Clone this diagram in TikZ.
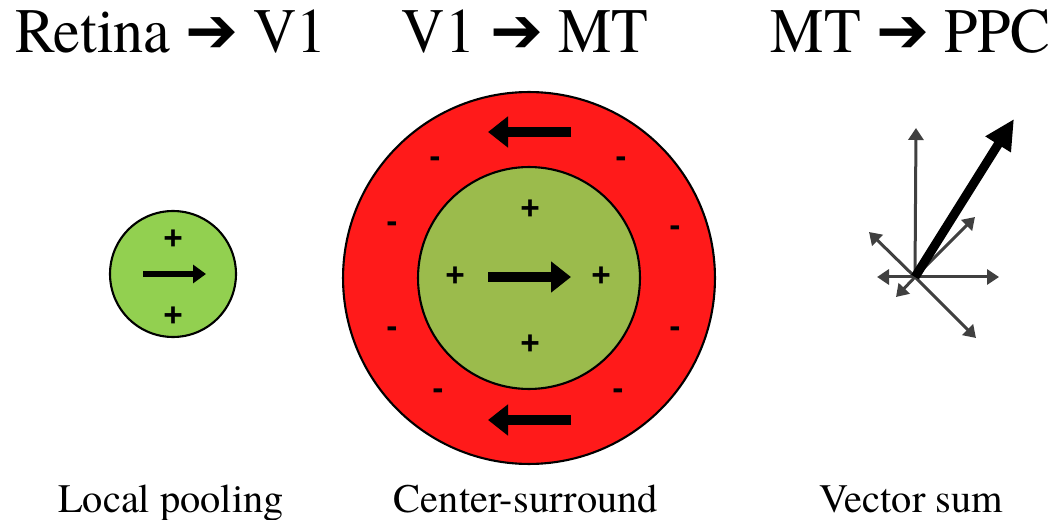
\documentclass[tikz,border=0pt]{standalone}
\usepackage{fontspec}
\setmainfont{TeX Gyre Termes}
\newfontfamily\titlefont{TeX Gyre Termes}[FakeStretch=0.95]
\newfontfamily\arrowfont{DejaVu Sans}
\newfontfamily\signfont{Liberation Sans}
\usetikzlibrary{arrows.meta}

\definecolor{lightgreen}{HTML}{92D050}
\definecolor{olivegreen}{HTML}{9BBB4C}
\definecolor{surroundred}{HTML}{FF1A1A}
\definecolor{vecgray}{HTML}{404040}

\newcommand{\rarr}{{\arrowfont\char"2794}}

\begin{document}
\begin{tikzpicture}[x=0.02cm, y=-0.02cm,
    title/.style={anchor=base, font=\titlefont\fontsize{36}{42}\selectfont},
    caption/.style={anchor=base, font=\rmfamily\fontsize{23}{27}\selectfont},
    field/.style={draw, circle, line width=1.2pt, inner sep=0pt},
    sign/.style={font=\signfont\bfseries\fontsize{19}{21}\selectfont, inner sep=0pt},
    motion/.style={line width=0.2cm, -{Triangle[length=0.4cm, width=0.6cm]}},
    vec/.style={draw=vecgray, line width=0.06cm, -{Triangle[length=0.24cm, width=0.3cm]}}]
    \useasboundingbox (0,0) rectangle (1062,520);

    % titles
    \node[title] (t1) at (171,53) {Retina \rarr{} V1};
    \node[title] (t2) at (525,53) {V1 \rarr{} MT};
    \node[title] (t3) at (911,53) {MT \rarr{} PPC};

    % local pooling
    \node[field, fill=lightgreen, minimum size=2.52cm] (v1) at (173,274) {};
    \node[sign] (p1) at (173,240) {+};
    \node[sign] (p2) at (173,317) {+};
    \coordinate (a1) at (143,274);
    \coordinate (b1) at (206,274);
    \draw[line width=0.12cm, -{Triangle[length=0.26cm, width=0.36cm]}] (a1) -- (b1);

    % center-surround
    \node[field, fill=surroundred, minimum size=7.44cm] (mt) at (529,278) {};
    \node[field, fill=olivegreen, minimum size=4.44cm] (ctr) at (529,278) {};
    \node[sign] (c1) at (530,210) {+};
    \node[sign] (c2) at (455,277) {+};
    \node[sign] (c3) at (601,277) {+};
    \node[sign] (c4) at (530,345) {+};
    \foreach \x/\y [count=\i] in {435/162, 621/162, 392/227, 675/231, 392/332, 675/332, 438/394, 618/394}
        \node[sign] (s\i) at (\x,\y) {-};
    \coordinate (a2) at (488,277);
    \coordinate (b2) at (571,277);
    \draw[motion] (a2) -- (b2);
    \coordinate (a3) at (571,132);
    \coordinate (b3) at (488,132);
    \draw[motion] (a3) -- (b3);
    \coordinate (a4) at (571,420);
    \coordinate (b4) at (488,420);
    \draw[motion] (a4) -- (b4);

    % vector sum
    \coordinate (o) at (915,277);
    \coordinate (up) at (916,128);
    \coordinate (lt) at (877,277);
    \coordinate (rt) at (999,277);
    \coordinate (nw) at (869,232);
    \coordinate (se) at (976,338);
    \coordinate (ne) at (975,217);
    \coordinate (sw) at (896,297);
    \coordinate (sum) at (1014,119);
    \foreach \v in {up, lt, rt, nw, se, ne, sw}
        \draw[vec] (o) -- (\v);
    \draw[line width=0.18cm, -{Triangle[length=0.6cm, width=0.56cm]}] (o) -- (sum);

    % captions
    \node[caption] (l1) at (171,512) {Local pooling};
    \node[caption] (l2) at (526,512) {Center-surround};
    \node[caption] (l3) at (911,512) {Vector sum};
\end{tikzpicture}
\end{document}
